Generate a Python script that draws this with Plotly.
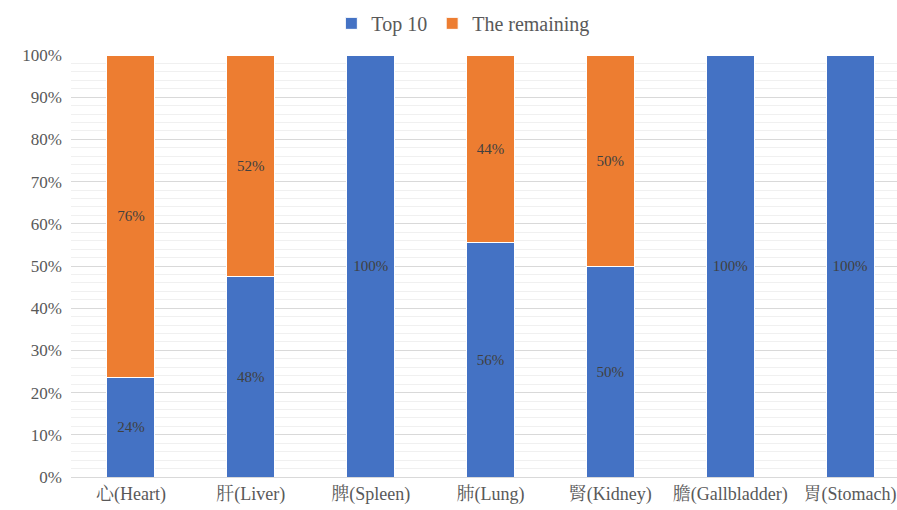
import plotly.graph_objects as go

categories = ["心(Heart)", "肝(Liver)", "脾(Spleen)", "肺(Lung)", "腎(Kidney)", "膽(Gallbladder)", "胃(Stomach)"]
top10 = [0.236, 0.476, 1.00, 0.556, 0.498, 1.00, 1.00]
remaining = [0.764, 0.524, 0.0, 0.444, 0.502, 0.0, 0.0]

FONT = "Liberation Serif, Noto Serif CJK TC, Noto Sans CJK TC, serif"

def labels(vals):
    return [f"{v*100:.0f}%" if v > 0 else "" for v in vals]

fig = go.Figure()
fig.add_trace(go.Bar(
    x=categories, y=top10, name="Top 10",
    marker=dict(color="#4472C4", line=dict(color="white", width=1)),
    text=labels(top10), textposition="inside", insidetextanchor="middle",
    textfont=dict(family=FONT, size=15, color="#404040"),
    width=0.4,
))
fig.add_trace(go.Bar(
    x=categories, y=remaining, name="The remaining",
    marker=dict(color="#ED7D31", line=dict(color="white", width=1)),
    text=labels(remaining), textposition="inside", insidetextanchor="middle",
    textfont=dict(family=FONT, size=15, color="#404040"),
    width=0.4,
))

fig.update_layout(
    barmode="stack",
    width=897, height=510,
    margin=dict(l=71, r=0, t=55, b=33),
    plot_bgcolor="white", paper_bgcolor="white",
    font=dict(family=FONT, color="#595959", size=17),
    uniformtext=dict(mode="show", minsize=15),
    legend=dict(orientation="h", x=0.475, xanchor="center", y=1.075, yanchor="middle",
                font=dict(family=FONT, size=20, color="#595959"), traceorder="normal",
                itemwidth=30),
)
fig.update_xaxes(
    range=[-0.5, 6.5 - 13/120],
    showgrid=False, showline=True, linecolor="#d9d9d9", linewidth=1,
    ticks="", tickfont=dict(family=FONT, size=18, color="#595959"),
)
fig.update_yaxes(
    range=[0, 1.0], dtick=0.1, tickformat=".0%",
    showgrid=True, gridcolor="#d9d9d9", gridwidth=1,
    minor=dict(dtick=0.02, showgrid=True, gridcolor="#f0f0f0", gridwidth=1),
    zeroline=False, ticks="", ticklabelstandoff=8,
    tickfont=dict(family=FONT, size=17, color="#595959"),
)

fig.write_html("out.html")
